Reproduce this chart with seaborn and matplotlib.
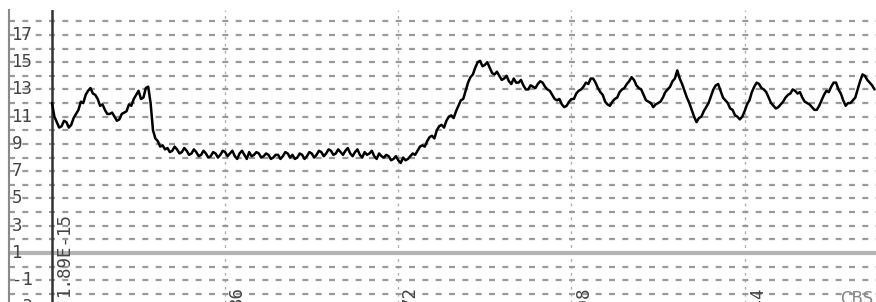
import numpy as np
import pandas as pd
import matplotlib
matplotlib.use("Agg")
import matplotlib.pyplot as plt
import seaborn as sns

# signal, one value per x unit (0..171)
signal = [
    12.0, 10.6, 10.3, 10.6, 10.4, 11.2, 12.1, 12.6, 13.1, 12.6,
    11.8, 11.5, 11.2, 11.0, 10.8, 11.3, 11.9, 12.3, 12.9, 12.4,
    13.2, 10.0, 9.2, 8.9, 8.7, 8.5, 8.6, 8.4, 8.5, 8.3,
    8.4, 8.2, 8.3, 8.1, 8.3, 8.2, 8.4, 8.3, 8.1, 8.3,
    8.2, 8.4, 8.2, 8.3, 8.1, 8.2, 8.0, 8.2, 8.1, 8.3,
    8.2, 8.0, 8.2, 8.1, 8.3, 8.2, 8.4, 8.3, 8.5, 8.3,
    8.4, 8.5, 8.3, 8.4, 8.2, 8.4, 8.3, 8.1, 8.3, 8.0,
    8.1, 7.9, 7.8, 8.0, 7.9, 8.3, 8.5, 8.9, 9.2, 9.6,
    10.0, 10.4, 10.7, 11.1, 11.4, 12.2, 12.9, 13.9, 14.6, 15.1,
    14.8, 14.6, 14.1, 14.0, 13.8, 13.6, 13.8, 13.5, 13.3, 13.0,
    13.2, 13.4, 13.5, 13.0, 12.6, 12.2, 11.9, 11.8, 12.3, 12.7,
    13.0, 13.5, 13.8, 13.5, 12.8, 12.1, 11.8, 12.3, 12.8, 13.1,
    13.6, 13.7, 13.1, 12.6, 12.1, 11.7, 12.0, 12.4, 13.0, 13.6,
    14.4, 13.4, 12.4, 11.5, 10.6, 11.0, 11.7, 12.5, 13.3, 12.9,
    12.2, 11.6, 11.1, 10.8, 11.4, 12.2, 13.2, 13.4, 13.0, 12.4,
    11.8, 11.7, 12.1, 12.6, 13.0, 12.7, 12.4, 12.0, 11.7, 11.5,
    12.2, 12.9, 13.2, 13.5, 12.7, 11.8, 12.0, 12.4, 13.6, 14.0,
    13.5, 13.0,
]
# readings half way between (x = 0.5, 1.5, ... 170.5), the noisy bits
signal_mid = [
    11.0, 10.2, 10.7, 10.2, 10.9, 11.5, 12.0, 12.9, 12.7, 12.3,
    11.9, 11.2, 11.3, 10.7, 11.2, 11.4, 11.8, 12.6, 12.3, 13.1,
    12.0, 9.4, 8.8, 8.6, 8.4, 8.8, 8.3, 8.7, 8.2, 8.6,
    8.1, 8.5, 8.0, 8.4, 8.0, 8.5, 8.1, 8.5, 7.9, 8.5,
    7.9, 8.1, 8.4, 8.0, 8.3, 7.9, 8.2, 7.9, 8.4, 8.0,
    7.9, 8.3, 7.9, 8.4, 8.0, 8.5, 8.1, 8.6, 8.2, 8.6,
    8.2, 8.7, 8.1, 8.6, 8.0, 8.2, 8.5, 7.9, 8.1, 8.2,
    7.8, 8.1, 7.6, 7.8, 8.1, 8.2, 8.8, 8.8, 9.5, 9.4,
    10.3, 10.2, 11.0, 10.9, 11.8, 12.3, 13.5, 14.1, 15.0, 14.7,
    15.0, 14.2, 14.3, 13.7, 14.0, 13.4, 13.5, 13.7, 13.0, 13.3,
    13.1, 13.6, 13.2, 12.9, 12.3, 12.3, 11.7, 12.1, 12.3, 12.9,
    13.2, 13.4, 13.8, 13.1, 12.6, 11.9, 12.1, 12.4, 13.0, 13.4,
    13.9, 13.3, 13.0, 12.2, 12.0, 11.9, 12.1, 12.8, 13.2, 13.8,
    13.8, 12.9, 12.0, 11.0, 10.9, 11.4, 12.0, 13.0, 13.4, 12.4,
    12.0, 11.5, 11.0, 11.0, 11.9, 12.8, 13.5, 13.1, 12.8, 12.0,
    11.6, 11.9, 12.4, 12.7, 12.9, 12.8, 12.1, 11.9, 11.5, 11.8,
    12.6, 12.8, 13.5, 13.0, 12.2, 12.0, 12.2, 13.0, 14.1, 13.7,
    13.3,
]
x_ticks = [0, 36, 72, 108, 144]
x_labels = ["1.89E-15", "36", "72", "108", "144"]
y_labels = [17, 15, 13, 11, 9, 7, 5, 3, 1, -1, -3]

xs = np.concatenate([np.arange(len(signal)), np.arange(len(signal_mid)) + 0.5])
ys = np.concatenate([signal, signal_mid])
df = pd.DataFrame({"x": xs, "y": ys}).sort_values("x")

sns.set_style("white")
plt.rcParams["lines.scale_dashes"] = False
plt.rcParams["font.family"] = ["DejaVu Sans Mono", "DejaVu Sans"]

fig = plt.figure(figsize=(8.76, 3.02), dpi=100)
ax = fig.add_axes([0, 0, 1, 1])

# axes a bit larger than the figure, so the picture is cut like the scan
px_x, px_y = 4.81, 13.625
x0, x1, y0, y1 = -9, 180, -5, 18.83
w = (x1 - x0) * px_x / 876
h = (y1 - y0) * px_y / 302
ax.set_position([8.7 / 876, 1 - 10 / 302 - h, w, h])
ax.set_xlim(x0, x1)
ax.set_ylim(y0, y1)

ax.set_yticks(range(-4, 19))
ax.set_xticks(x_ticks)
ax.tick_params(length=0, labelleft=False, labelbottom=False)
ax.grid(axis="y", color="#9a9a9a", lw=1.6, linestyle=(0, (4.3, 5.3)))
ax.grid(axis="x", color="#b0b0b0", lw=1.0, linestyle=(0, (2, 3)))

for s in ["top", "right", "bottom"]:
    ax.spines[s].set_visible(False)
ax.spines["left"].set_color("#8a8a8a")
ax.spines["left"].set_linewidth(1.5)

ax.axhline(1, color="#b4b4b4", lw=3, zorder=1.5)
ax.axvline(0, color="#333333", lw=1.8, zorder=2)

sns.lineplot(data=df, x="x", y="y", color="black", lw=1.8, ax=ax,
             zorder=3, sort=False)
ax.set_xlabel("")
ax.set_ylabel("")

# y labels sit inside the frame, over the grid
for v in y_labels:
    ax.text(-8.3, v, str(v), ha="left", va="center", fontsize=12.5,
            color="#444444", zorder=4)

# rotated x labels, cut by the bottom edge as in the scan
for t, lab in zip(x_ticks, x_labels):
    top = 4.0 if t == 0 else -1.42
    ax.text(t + 0.6, top, lab, rotation=90, ha="left", va="top",
            fontsize=12.5, color="#444444", zorder=4)

ax.text(163.8, -1.72, "CBS", ha="left", va="top", fontsize=12,
        color="#888888", family="DejaVu Sans", zorder=4)

fig.savefig("out.png", dpi=100)
